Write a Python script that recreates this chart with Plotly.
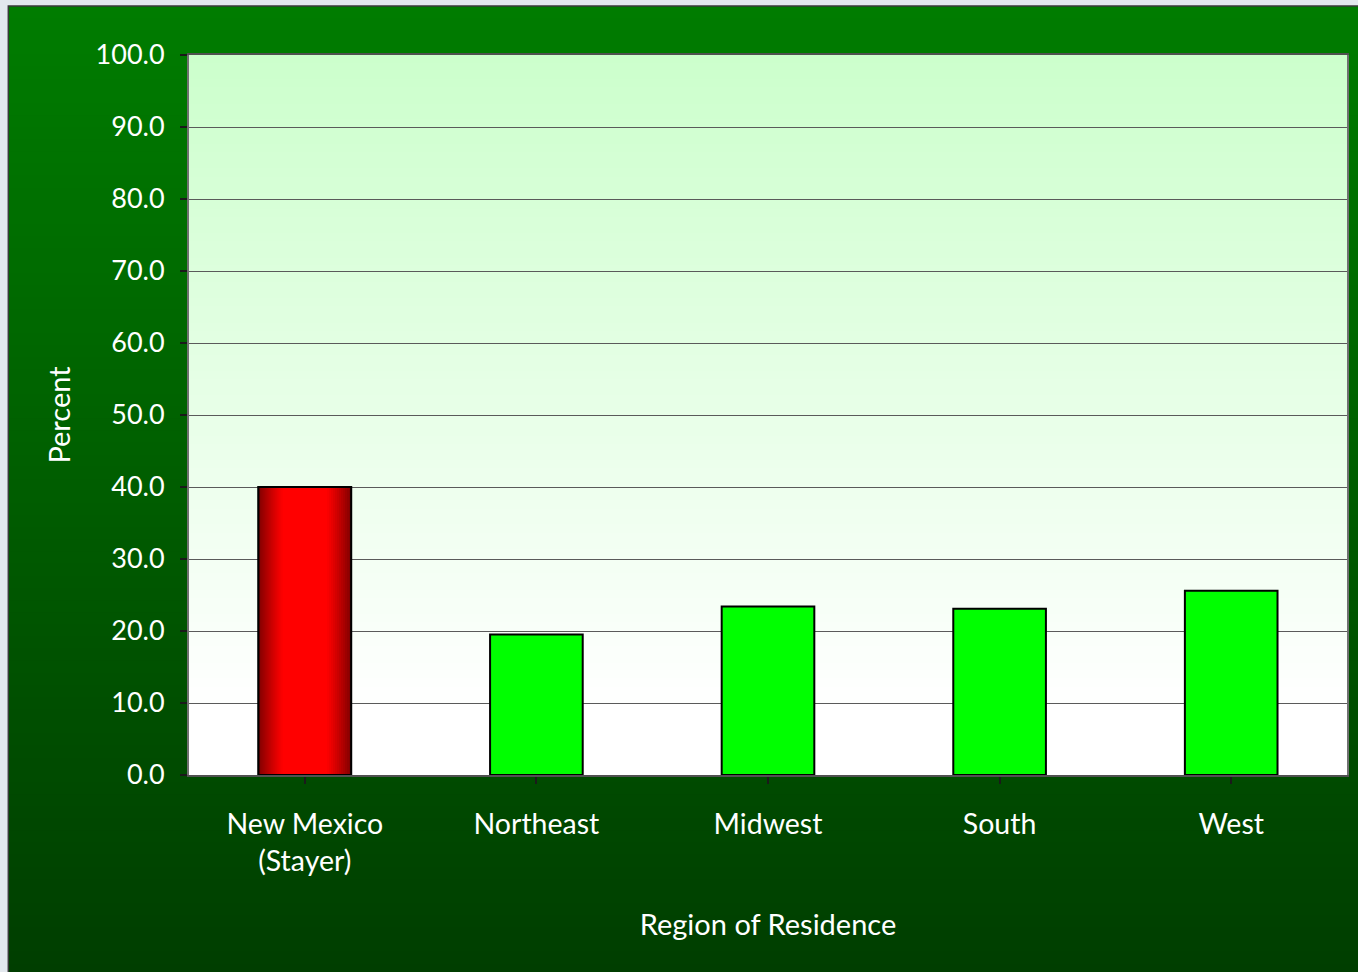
import math
import plotly.graph_objects as go

categories = ["New Mexico<br>(Stayer)", "Northeast", "Midwest", "South", "West"]
percent = [40.0, 19.5, 23.4, 23.1, 25.6]
bar_colors = ["#ff0000", "#00ff00", "#00ff00", "#00ff00", "#00ff00"]
y_ticks = [0, 10, 20, 30, 40, 50, 60, 70, 80, 90, 100]

# the body margin is removed below, so the figure fills the window exactly
W, H = 1358, 972
L, T = 189, 55
PW, PH = 1160, 720
R, B = W - L - PW, H - T - PH
BAR_W = 0.4
FONT = "Lato"


def mix(a, b, t):
    return "rgb(%d,%d,%d)" % tuple(int(round(p + (q - p) * t)) for p, q in zip(a, b))


fig = go.Figure()
fig.add_trace(go.Bar(
    x=list(range(len(categories))), y=percent,
    marker=dict(color=bar_colors, line=dict(color="black", width=2)),
    width=BAR_W, hoverinfo="y",
))

shapes = []


def px2paper_x(p):
    return (p - L) / PW


def px2paper_y(p):
    return (T + PH - p) / PH


# outer frame gradient (layered stripes, each one reaches the bottom -> no seams)
x0f, x1f = px2paper_x(8), px2paper_x(W + 4)
ytop, ybot = px2paper_y(6), px2paper_y(H + 4)
N = 80
c_top = (0, 124, 0)
c_bot = (0, 62, 0)
for i in range(N):
    y1 = ytop + (ybot - ytop) * i / N
    shapes.append(dict(type="rect", xref="paper", yref="paper", x0=x0f, x1=x1f,
                       y0=ybot, y1=y1, line=dict(width=0),
                       fillcolor=mix(c_top, c_bot, i / (N - 1)), layer="below"))
shapes.append(dict(type="rect", xref="paper", yref="paper", x0=x0f, x1=x1f,
                   y0=ybot, y1=ytop, line=dict(color="#3a3a3a", width=1.5),
                   fillcolor="rgba(0,0,0,0)", layer="below"))

# plot area gradient (light green at the top -> white near 10)
M = 80
g_top = (204, 255, 204)
g_bot = (255, 255, 255)
ylo, yhi = 10.0, 100.0
for i in range(M + 1):
    y1 = yhi - (yhi - ylo) * i / M
    shapes.append(dict(type="rect", xref="x domain", yref="y", x0=0, x1=1,
                       y0=0, y1=y1, line=dict(width=0),
                       fillcolor=mix(g_top, g_bot, min(1.0, i / M)), layer="below"))

# red bar horizontal gradient (derived from the data value)
S = 46
dark = (128, 0, 0)
bright = (255, 0, 0)
x_left = 0 - BAR_W / 2
for i in range(S):
    t = (i + 0.5) / S
    f = min(1.0, 1.35 * math.sin(math.pi * t))
    shapes.append(dict(type="rect", xref="x", yref="y",
                       x0=x_left + BAR_W * i / S, x1=x_left + BAR_W,
                       y0=0, y1=percent[0], line=dict(width=0),
                       fillcolor=mix(dark, bright, f), layer="above"))
shapes.append(dict(type="rect", xref="x", yref="y", x0=x_left, x1=x_left + BAR_W,
                   y0=0, y1=percent[0], line=dict(color="black", width=2),
                   fillcolor="rgba(0,0,0,0)", layer="above"))

fig.update_layout(
    width=W, height=H,
    margin=dict(l=L, r=R, t=T, b=B, pad=0),
    paper_bgcolor="#e3e8ee",
    plot_bgcolor="rgba(0,0,0,0)",
    showlegend=False,
    bargap=0.6,
    shapes=shapes,
    font=dict(family=FONT, color="white", size=27),
)
fig.update_xaxes(
    tickmode="array", tickvals=list(range(len(categories))), ticktext=categories,
    range=[-0.5, len(categories) - 0.5],
    tickson="boundaries", ticks="outside", ticklen=7, tickcolor="#1a1a1a", tickwidth=2,
    ticklabelstandoff=16,
    showline=True, linecolor="#505050", linewidth=2, mirror=True,
    showgrid=False,
    tickfont=dict(family=FONT, size=28.5, color="white"),
    title=dict(text="Region of Residence", font=dict(family=FONT, size=29, color="white"), standoff=38),
    fixedrange=True,
)
fig.update_yaxes(
    range=[0, 100], tickvals=y_ticks, ticktext=["%.1f" % v for v in y_ticks],
    ticks="outside", ticklen=7, tickcolor="#1a1a1a", tickwidth=2,
    ticklabelstandoff=10,
    showline=True, linecolor="#707070", linewidth=2, mirror=True,
    showgrid=True, gridcolor="#5a5a5a", gridwidth=1,
    zeroline=False,
    tickfont=dict(family=FONT, size=27, color="white"),
    title=dict(text="Percent", font=dict(family=FONT, size=29, color="white"), standoff=16),
    fixedrange=True,
)

fig.write_html(
    "out.html",
    config={"displayModeBar": False},
    post_script="document.body.style.margin='0';document.body.style.background='#e3e8ee';",
)
